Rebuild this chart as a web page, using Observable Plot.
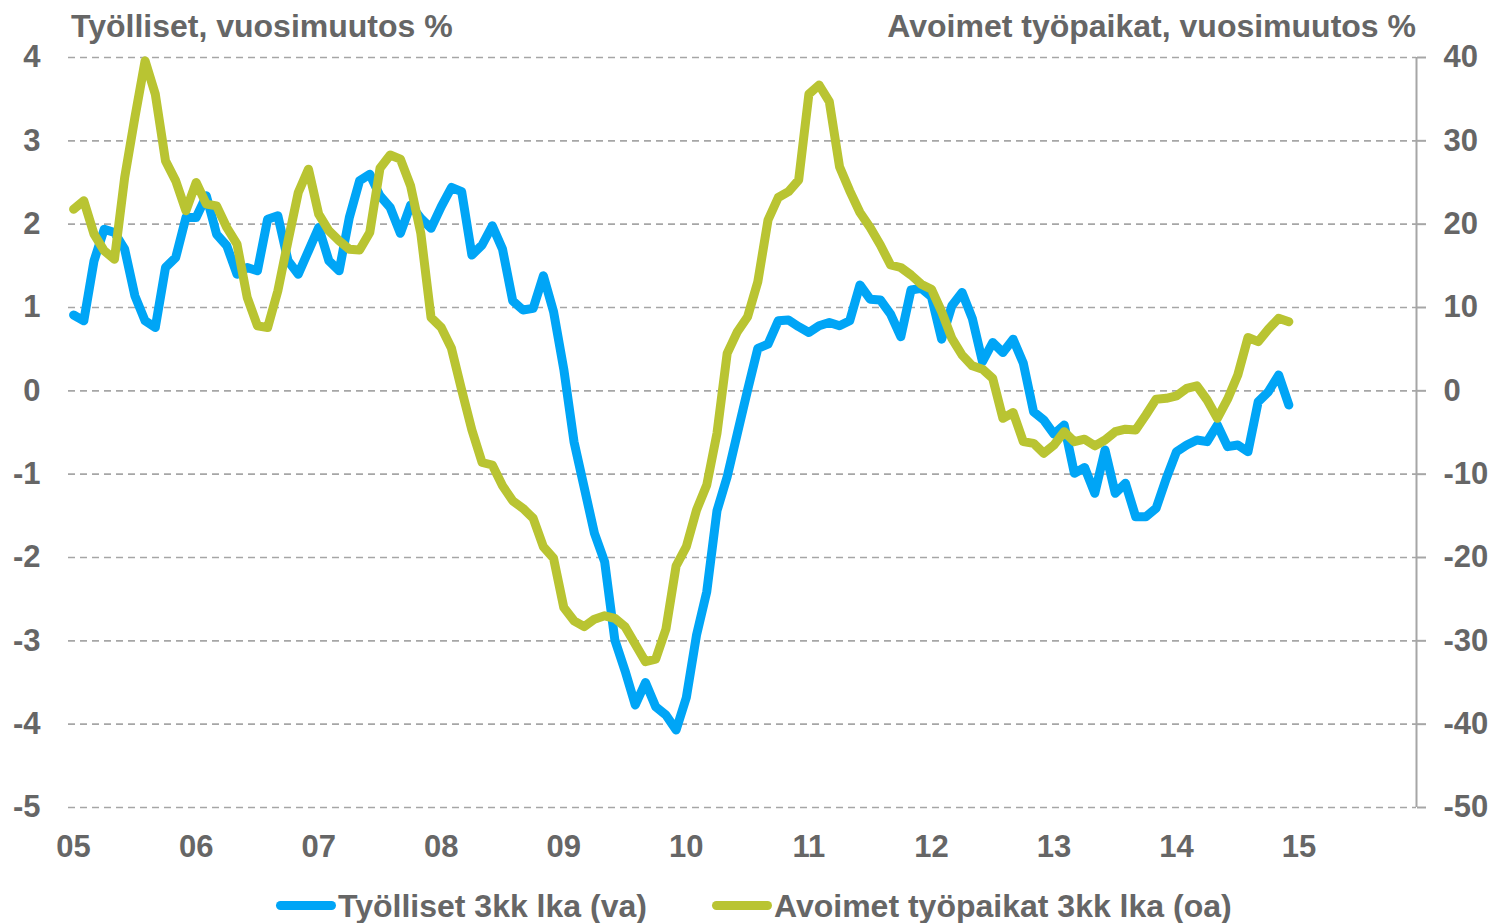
<!DOCTYPE html>
<html>
<head>
<meta charset="utf-8">
<script src="https://cdn.jsdelivr.net/npm/d3@7"></script>
<script src="https://cdn.jsdelivr.net/npm/@observablehq/plot@0.6"></script>
<style>
  body { margin: 0; background: #ffffff; font-family: "Liberation Sans", Arial, sans-serif; }
  #wrap { position: relative; width: 1493px; height: 923px; overflow: hidden; background: #fff; }
  #chart { position: absolute; left: 0; top: 0; }
  .t { position: absolute; font-weight: bold; font-size: 32px; line-height: 1; color: #666666; white-space: nowrap; }
  .sw { position: absolute; height: 9px; width: 60px; border-radius: 4.5px; }
</style>
</head>
<body>
<div id="wrap">
  <div id="chart"></div>
  <div class="t" id="titleLeft" style="left:71px; top:10px;"></div>
  <div class="t" id="titleRight" style="right:77px; top:10px;"></div>
  <div class="sw" id="sw1" style="left:276px; top:901px;"></div>
  <div class="t" id="lg1" style="left:338px; top:890px;"></div>
  <div class="sw" id="sw2" style="left:712px; top:901px;"></div>
  <div class="t" id="lg2" style="left:774px; top:890px;"></div>
</div>
<script>
// ---- Data (monthly, Jan 2005 – Dec 2014) ----
const startYear = 2005;
const slotCount = 132; // category slots on axis: Jan 2005 .. Dec 2015

// Työlliset 3kk lka, vuosimuutos % (left axis)
const tyolliset = [
  0.91, 0.84, 1.56, 1.94, 1.90, 1.70, 1.14, 0.84, 0.76, 1.48, 1.60, 2.08,
  2.08, 2.34, 1.88, 1.74, 1.40, 1.48, 1.44, 2.06, 2.10, 1.56, 1.40, 1.68,
  1.96, 1.56, 1.44, 2.08, 2.52, 2.60, 2.34, 2.20, 1.89, 2.23, 2.07, 1.95,
  2.21, 2.44, 2.39, 1.63, 1.75, 1.98, 1.70, 1.08, 0.97, 0.99, 1.38, 0.95,
  0.26, -0.61, -1.16, -1.71, -2.05, -2.99, -3.36, -3.77, -3.50, -3.79, -3.89, -4.07,
  -3.68, -2.93, -2.41, -1.44, -1.03, -0.51, 0.01, 0.51, 0.56, 0.84, 0.85, 0.77,
  0.70, 0.78, 0.82, 0.78, 0.84, 1.27, 1.10, 1.09, 0.92, 0.65, 1.21, 1.23,
  1.13, 0.62, 1.02, 1.18, 0.87, 0.35, 0.58, 0.46, 0.62, 0.33, -0.25, -0.35,
  -0.52, -0.41, -0.99, -0.92, -1.23, -0.71, -1.23, -1.11, -1.51, -1.51, -1.41, -1.05,
  -0.73, -0.65, -0.59, -0.61, -0.41, -0.67, -0.65, -0.73, -0.13, -0.01, 0.19, -0.17
];

// Avoimet työpaikat 3kk lka, vuosimuutos % (right axis)
const avoimet = [
  21.8, 22.8, 18.8, 16.8, 15.8, 25.6, 32.8, 39.6, 35.6, 27.6, 25.2, 21.6,
  25.0, 22.4, 22.2, 19.6, 17.6, 11.2, 7.8, 7.6, 12.0, 18.0, 23.8, 26.6,
  21.2, 19.2, 18.0, 17.0, 16.9, 19.0, 26.7, 28.3, 27.8, 24.6, 18.9, 8.8,
  7.6, 5.1, 0.1, -4.7, -8.6, -8.9, -11.4, -13.2, -14.1, -15.3, -18.7, -20.1,
  -26.0, -27.6, -28.3, -27.4, -27.0, -27.3, -28.3, -30.4, -32.5, -32.2, -28.6, -21.0,
  -18.7, -14.3, -11.3, -5.1, 4.5, 7.1, 8.9, 13.1, 20.5, 23.2, 23.9, 25.3,
  35.6, 36.7, 34.7, 26.9, 24.0, 21.4, 19.6, 17.5, 15.1, 14.8, 13.9, 12.8,
  12.2, 9.5, 6.3, 4.3, 3.0, 2.6, 1.5, -3.3, -2.6, -6.1, -6.3, -7.5,
  -6.5, -4.9, -6.1, -5.8, -6.6, -5.9, -4.9, -4.6, -4.7, -2.9, -1.0, -0.9,
  -0.6, 0.3, 0.6, -1.1, -3.3, -1.0, 1.9, 6.4, 5.9, 7.4, 8.7, 8.3
];

const xTickLabels = ["05", "06", "07", "08", "09", "10", "11", "12", "13", "14", "15"];
const leftTicks = [-5, -4, -3, -2, -1, 0, 1, 2, 3, 4];
const rightTicks = [-50, -40, -30, -20, -10, 0, 10, 20, 30, 40];
const axisRatio = 10; // right axis / left axis

const titleLeft = "Työlliset, vuosimuutos %";
const titleRight = "Avoimet työpaikat, vuosimuutos %";
const seriesNames = ["Työlliset 3kk lka (va)", "Avoimet työpaikat 3kk lka (oa)"];
const colors = ["#00a5f6", "#b9c432"];

// ---- Build ----
const xDomain = [-0.5, slotCount - 0.5];
const xTicks = xTickLabels.map((_, k) => k * 12);
const blueData = tyolliset.map((v, i) => ({i, v}));
const greenData = avoimet.map((v, i) => ({i, v: v / axisRatio}));

const chart = Plot.plot({
  width: 1493,
  height: 870,
  marginLeft: 68,
  marginRight: 77,
  marginTop: 57,
  marginBottom: 63,
  style: {fontFamily: '"Liberation Sans", Arial, sans-serif', fontSize: "31px", fontWeight: "bold", color: "#666666", background: "transparent"},
  x: {type: "linear", domain: xDomain},
  y: {domain: [leftTicks[0], leftTicks[leftTicks.length - 1]]},
  marks: [
    Plot.gridY(leftTicks, {stroke: "#a6a6a6", strokeOpacity: 1, strokeWidth: 1.7, strokeDasharray: "7,5"}),
    Plot.ruleX([xDomain[1]], {y1: leftTicks[0], y2: leftTicks[leftTicks.length - 1], stroke: "#a6a6a6", strokeWidth: 2}),
    Plot.axisY(leftTicks, {anchor: "left", tickSize: 0, tickPadding: 28, tickFormat: d => String(d), label: null}),
    Plot.axisY(leftTicks, {anchor: "right", tickSize: 9, tickPadding: 18, stroke: "#a6a6a6", strokeWidth: 2,
      tickFormat: d => String(rightTicks[leftTicks.indexOf(d)]), label: null}),
    Plot.axisX(xTicks, {anchor: "bottom", tickSize: 0, tickPadding: 27, tickFormat: d => xTickLabels[d / 12], label: null}),
    Plot.line(blueData, {x: "i", y: "v", stroke: colors[0], strokeWidth: 9, strokeLinejoin: "round", strokeLinecap: "round"}),
    Plot.line(greenData, {x: "i", y: "v", stroke: colors[1], strokeWidth: 9, strokeLinejoin: "round", strokeLinecap: "round"})
  ]
});
document.getElementById("chart").appendChild(chart);

document.getElementById("titleLeft").textContent = titleLeft;
document.getElementById("titleRight").textContent = titleRight;
document.getElementById("lg1").textContent = seriesNames[0];
document.getElementById("lg2").textContent = seriesNames[1];
document.getElementById("sw1").style.background = colors[0];
document.getElementById("sw2").style.background = colors[1];
</script>
</body>
</html>
